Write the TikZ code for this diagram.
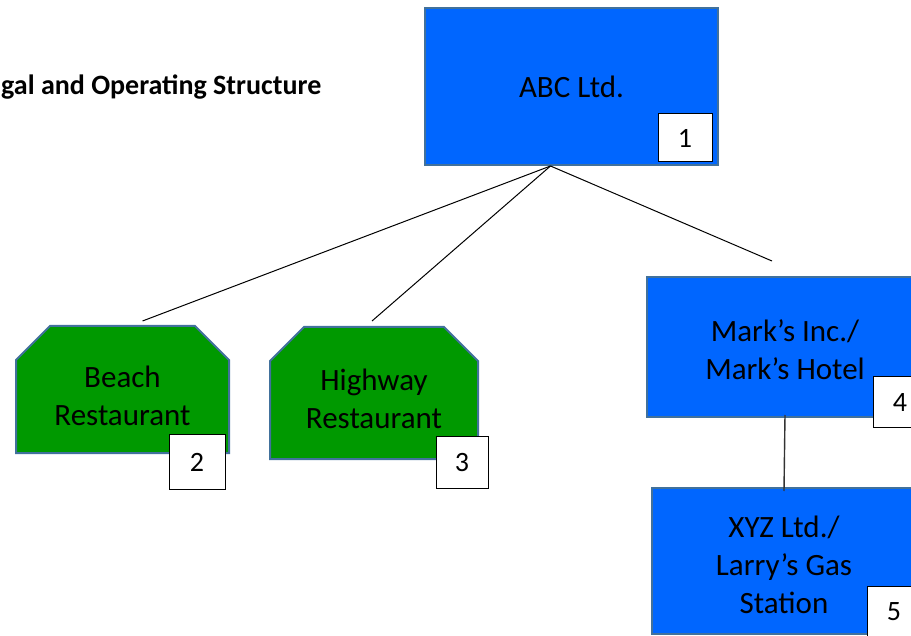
\documentclass[tikz,border=0pt]{standalone}
\usepackage{fontspec}
\setmainfont{Carlito}
\usetikzlibrary{shapes.misc}
\definecolor{boxblue}{RGB}{0,102,255}
\definecolor{boxgreen}{RGB}{0,153,0}
\definecolor{boxedge}{RGB}{65,113,156}
\tikzset{
  entity/.style={draw=boxedge, line width=2pt, fill=boxblue, align=center, inner sep=0pt,
    font=\fontsize{31}{38}\selectfont},
  unit/.style={chamfered rectangle, chamfered rectangle corners={north west,north east},
    chamfered rectangle xsep=14pt, chamfered rectangle ysep=20pt,
    draw=boxedge, line width=2pt, fill=boxgreen, align=center, inner sep=0pt,
    font=\fontsize{31}{38}\selectfont},
  numbox/.style={draw, fill=white, line width=1pt, inner sep=0pt,
    font=\fontsize{28}{32}\selectfont},
  link/.style={black, line width=1pt},
}
\begin{document}
\begin{tikzpicture}[x=1pt, y=-1pt]
\useasboundingbox (0,0) rectangle (911,636);
\clip (0,0) rectangle (911,636);

% title
\node[anchor=base west, inner sep=0pt, font=\fontsize{28}{34}\selectfont\bfseries] (title) at (1,95) {gal and Operating Structure};

% parent
\node[entity, minimum width=293pt, minimum height=157pt] (abc) at (571.5,86.5) {ABC Ltd.};
\node[numbox, minimum width=54pt, minimum height=48pt] (n1) at (685,138) {1};

% restaurants
\node[unit, text height=72pt, minimum width=213pt, minimum height=127pt] (beach) at (122.5,389.5) {Beach\\Restaurant};
\node[numbox, minimum width=56pt, minimum height=54pt] (n2) at (197,462) {2};
\node[unit, text height=72pt, minimum width=208pt, minimum height=132pt] (highway) at (374,393) {Highway\\Restaurant};
\node[numbox, minimum width=52pt, minimum height=51pt] (n3) at (462,462.5) {3};

% hotel and gas station
\node[entity, text height=65pt, minimum width=276pt, minimum height=140pt] (marks) at (785,347) {Mark’s Inc./\\Mark’s Hotel};
\node[numbox, minimum width=54pt, minimum height=51pt] (n4) at (900,402.5) {4};
\node[entity, text height=105pt, minimum width=264pt, minimum height=146pt] (xyz) at (784,561) {XYZ Ltd./\\Larry’s Gas\\Station};
\node[numbox, minimum width=54pt, minimum height=51pt] (n5) at (894,612) {5};

% ownership lines
\draw[link] ([xshift=-21pt]abc.south) -- ([xshift=20pt,yshift=4pt]beach.north);
\draw[link] ([xshift=-21pt]abc.south) -- ([xshift=-2pt,yshift=5pt]highway.north);
\draw[link] ([xshift=-21pt]abc.south) -- ([xshift=-13pt,yshift=15pt]marks.north);
\draw[link, black!80, line width=1.4pt] ([yshift=3pt]marks.south) -- ([yshift=-4pt]xyz.north);
\end{tikzpicture}
\end{document}
